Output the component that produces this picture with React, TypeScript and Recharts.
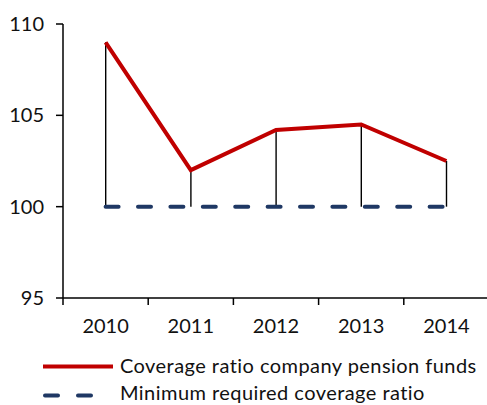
import React from 'react';
import { ComposedChart, Line, Bar, XAxis, YAxis } from 'recharts';

// values
const years = ['2010', '2011', '2012', '2013', '2014'];
const coverage = [109.0, 102.0, 104.2, 104.5, 102.5];
const minimum = [100, 100, 100, 100, 100];
const yTicks = [95, 100, 105, 110];

const rows = years.map((year, i) => ({ year, coverage: coverage[i], minimum: minimum[i] }));

const RED = '#C00000';
const NAVY = '#1F3864';
const FONT = 'Lato, "Open Sans", sans-serif';

const CHART_W = 489;
const Y_AXIS_W = 63;
const BAND = (CHART_W - Y_AXIS_W) / years.length;
const TICK = 7;
const TICK_MARGIN = 14;

// label at band centre, tick mark at the left edge of each band
const YearTick = (props: any) => {
  const { x, y, payload } = props;
  const axisY = y - TICK - TICK_MARGIN;
  const left = x - BAND / 2;
  return (
    <g>
      <line x1={left} x2={left} y1={axisY} y2={axisY + TICK} stroke="#000" strokeWidth={1.5} />
      <text x={x} y={y} dy="0.71em" textAnchor="middle" fontSize={20} fontFamily={FONT} fill="#111">
        {payload.value}
      </text>
    </g>
  );
};

export default function App() {
  return (
    <div style={{ position: 'absolute', left: 0, top: 0, width: 487, height: 405, overflow: 'hidden', background: '#fff' }}>
      <ComposedChart width={CHART_W} height={338} data={rows} margin={{ top: 24, right: 0, bottom: 0, left: 0 }}>
        <XAxis
          dataKey="year"
          height={40}
          tickLine={false}
          tickSize={TICK}
          tickMargin={TICK_MARGIN}
          axisLine={{ stroke: '#000', strokeWidth: 1.5 }}
          tick={<YearTick />}
          interval={0}
        />
        <YAxis
          width={Y_AXIS_W}
          domain={[95, 110]}
          ticks={yTicks}
          interval={0}
          tickSize={TICK}
          tickMargin={12}
          axisLine={{ stroke: '#000', strokeWidth: 1.5 }}
          tickLine={{ stroke: '#000', strokeWidth: 1.5 }}
          tick={{ fontSize: 20, fontFamily: FONT, fill: '#111' }}
        />
        <Bar
          dataKey={(d: any) => [d.minimum, d.coverage]}
          barSize={1.4}
          fill="#000"
          isAnimationActive={false}
        />
        <Line
          dataKey="minimum"
          stroke={NAVY}
          strokeWidth={4}
          strokeDasharray="13 19.4"
          strokeLinecap="round"
          dot={false}
          activeDot={false}
          isAnimationActive={false}
        />
        <Line
          dataKey="coverage"
          stroke={RED}
          strokeWidth={4}
          dot={false}
          activeDot={false}
          isAnimationActive={false}
        />
      </ComposedChart>
      <svg width={487} height={405} style={{ position: 'absolute', left: 0, top: 0, pointerEvents: 'none' }}>
        <line x1={43} x2={113} y1={366.5} y2={366.5} stroke={RED} strokeWidth={4} />
        <text x={120} y={373} fontSize={20} letterSpacing={0.45} fontFamily={FONT} fill="#111">
          Coverage ratio company pension funds
        </text>
        <line x1={45} x2={111} y1={395.5} y2={395.5} stroke={NAVY} strokeWidth={4} strokeDasharray="13 20" strokeLinecap="round" />
        <text x={120} y={400} fontSize={20} letterSpacing={0.45} fontFamily={FONT} fill="#111">
          Minimum required coverage ratio
        </text>
      </svg>
    </div>
  );
}
